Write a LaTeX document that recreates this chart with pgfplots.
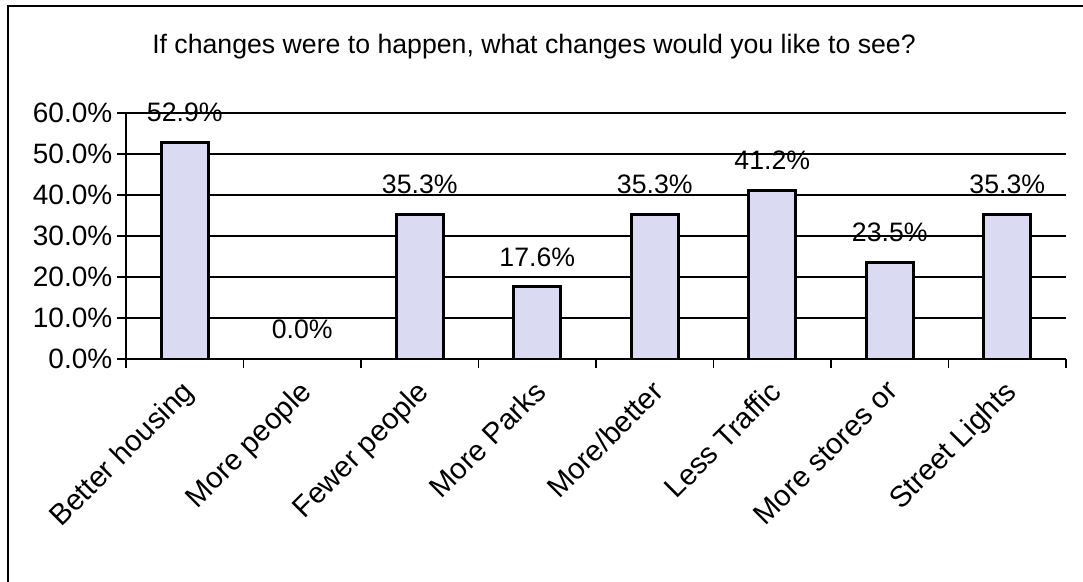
\documentclass[border=0pt]{standalone}
\usepackage{fontspec}
\setmainfont{Liberation Sans}
\usepackage{pgfplots}
\pgfplotsset{compat=1.18}
\definecolor{barfill}{RGB}{218,218,242}
\begin{document}
\begin{tikzpicture}
\useasboundingbox (-94.5pt,-167.25pt) rectangle (717.75pt,269.25pt);
\draw[line width=1.5pt] (-88.5pt,-175pt) -- (-88.5pt,264.75pt) -- (725pt,264.75pt);
\node[font=\fontsize{20}{24}\selectfont] at (306pt,234pt) {If changes were to happen, what changes would you like to see?};
\begin{axis}[
  at={(0pt,0pt)}, anchor=south west,
  scale only axis, width=705pt, height=184.5pt,
  xmin=-0.5, xmax=7.5, ymin=0, ymax=60,
  axis x line*=bottom, axis y line*=left,
  axis line style={line width=1.5pt, black},
  /pgf/number format/assume math mode=true,
  ytick={0,10,...,60},
  yticklabel={\pgfmathprintnumber[fixed,fixed zerofill,precision=1]{\tick}\%},
  yticklabel style={font=\fontsize{21}{25}\selectfont},
  ymajorgrids,
  grid style={line width=1.2pt, black},
  tick align=outside,
  major tick length=6.75pt,
  tick style={line width=1.2pt, black},
  xtick={-0.5,0.5,...,7.5},
  xticklabels={},
  extra x ticks={0,1,2,3,4,5,6,7},
  extra x tick labels={Better housing, More people, Fewer people, More Parks, More/better, Less Traffic, More stores or, Street Lights},
  extra x tick style={major tick length=0pt, xticklabel style={xshift=-3.5pt, yshift=-14.5pt, rotate=45, anchor=north east, inner sep=0pt, font=\fontsize{22}{26}\selectfont}},
  clip=false,
  nodes near coords={\pgfmathprintnumber[fixed,fixed zerofill,precision=1]{\pgfplotspointmeta}\%},
  every node near coord/.append style={font=\fontsize{20}{24}\selectfont, anchor=center, yshift=22.5pt},
]
\addplot[ybar, bar width=35.25pt, fill=barfill, draw=black, line width=2.2pt] coordinates {
(0,52.9) (1,0.0) (2,35.3) (3,17.6) (4,35.3) (5,41.2) (6,23.5) (7,35.3)};
\end{axis}
\end{tikzpicture}
\end{document}
